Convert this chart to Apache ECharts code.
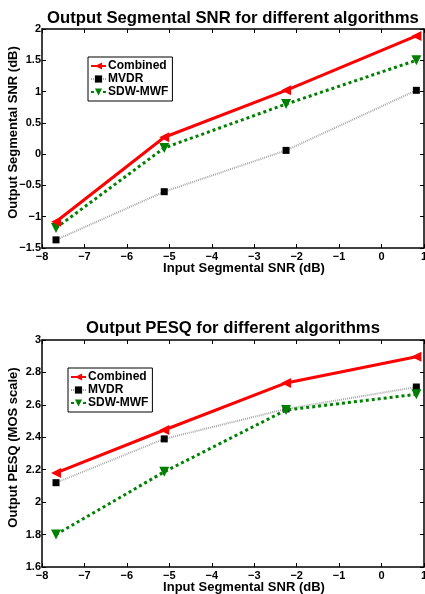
<!DOCTYPE html>
<html>
<head>
<meta charset="utf-8">
<script src="https://cdn.jsdelivr.net/npm/echarts@6/dist/echarts.min.js"></script>
<style>
  html, body { margin: 0; padding: 0; background: #fff; }
  #chart { width: 425px; height: 594px; }
</style>
</head>
<body>
<div id="chart"></div>
<script>
// input segmental SNR (dB), shared by both plots
var inputSnr = [-7.67, -5.12, -2.25, 0.82];

// top plot: output segmental SNR (dB)
var snrCombined = [-1.08, 0.27, 1.02, 1.89];
var snrMvdr = [-1.37, -0.6, 0.06, 1.02];
var snrSdw = [-1.18, 0.1, 0.8, 1.5];

// bottom plot: output PESQ (MOS scale)
var pesqCombined = [2.18, 2.445, 2.735, 2.897];
var pesqMvdr = [2.12, 2.39, 2.575, 2.71];
var pesqSdw = [1.8, 2.187, 2.568, 2.665];

var FONT = 'Liberation Sans';

function pairs(xs, ys) {
  return xs.map(function (x, i) { return [x, ys[i]]; });
}

// matlab prints a real minus sign
function tickFmt(v) {
  return String(+v.toFixed(2)).replace('-', '\u2212');
}

// matlab-ish axis: inside ticks, black line, bold labels
function xAx(gridIdx, pos, showLabel, name) {
  return {
    type: 'value', gridIndex: gridIdx, position: pos,
    min: -8, max: 1, interval: 1,
    name: name || '', nameLocation: 'middle', nameGap: 14, nameMoveOverlap: false,
    nameTextStyle: { fontFamily: FONT, fontWeight: 'bold', fontSize: 13, color: '#000', padding: [0, 0, 0, 22] },
    axisLine: { onZero: false, lineStyle: { color: '#000', width: 1.5 } },
    axisTick: { inside: true, length: 4, lineStyle: { color: '#000' } },
    axisLabel: { show: showLabel, margin: 3, formatter: tickFmt, fontFamily: FONT, fontWeight: 'bold', fontSize: 11, color: '#000' },
    splitLine: { show: false }
  };
}

function yAx(gridIdx, pos, showLabel, min, max, step, name) {
  return {
    type: 'value', gridIndex: gridIdx, position: pos,
    min: min, max: max, interval: step,
    name: name || '', nameLocation: 'middle', nameGap: 22, nameMoveOverlap: false,
    nameTextStyle: { fontFamily: FONT, fontWeight: 'bold', fontSize: 13, color: '#000', padding: [0, 0, 0, 12] },
    axisLine: { onZero: false, lineStyle: { color: '#000', width: 1.5 } },
    axisTick: { inside: true, length: 4, lineStyle: { color: '#000' } },
    axisLabel: { show: showLabel, margin: 1, formatter: tickFmt, fontFamily: FONT, fontWeight: 'bold', fontSize: 11, color: '#000' },
    splitLine: { show: false }
  };
}

function combinedSeries(idx, data) {
  return {
    name: 'Combined', type: 'line', xAxisIndex: idx * 2, yAxisIndex: idx * 2,
    data: data, symbol: 'triangle', symbolRotate: 90, symbolSize: 10,
    lineStyle: { color: '#ff0000', width: 3 },
    itemStyle: { color: '#ff0000' }, z: 4
  };
}
function mvdrSeries(idx, data) {
  return {
    name: 'MVDR', type: 'line', xAxisIndex: idx * 2, yAxisIndex: idx * 2,
    data: data, symbol: 'rect', symbolSize: 7,
    lineStyle: { color: '#a8a8a8', width: 2, type: [1, 1] },
    itemStyle: { color: '#000' }, z: 2
  };
}
function sdwSeries(idx, data) {
  return {
    name: 'SDW-MWF', type: 'line', xAxisIndex: idx * 2, yAxisIndex: idx * 2,
    data: data, symbol: 'triangle', symbolRotate: 180, symbolSize: 10,
    lineStyle: { color: '#008000', width: 3, type: [3, 3] },
    itemStyle: { color: '#008000' }, z: 3
  };
}

function legendBox(left, top) {
  return {
    left: left, top: top, orient: 'vertical',
    data: ['Combined', 'MVDR', 'SDW-MWF'],
    itemWidth: 15, itemHeight: 9, itemGap: 1,
    padding: [3, 4, 3, 2],
    borderColor: '#000', borderWidth: 1, backgroundColor: '#fff',
    selectedMode: false,
    textStyle: { fontFamily: FONT, fontWeight: 'bold', fontSize: 12, lineHeight: 12, color: '#000', padding: [0, 0, 0, -3] }
  };
}

var chart = echarts.init(document.getElementById('chart'));
chart.setOption({
  animation: false,
  title: [
    { text: 'Output Segmental SNR for different algorithms', left: 228, top: 5, textAlign: 'center',
      textStyle: { fontFamily: FONT, fontWeight: 'bold', fontSize: 16.7, color: '#000' } },
    { text: 'Output PESQ for different algorithms', left: 228, top: 315, textAlign: 'center',
      textStyle: { fontFamily: FONT, fontWeight: 'bold', fontSize: 16.7, color: '#000' } }
  ],
  legend: [legendBox(88, 57), legendBox(68, 368)],
  grid: [
    { left: 42, right: 1, top: 29, height: 219, outerBoundsMode: 'none', containLabel: false },
    { left: 42, right: 1, top: 340, height: 227, outerBoundsMode: 'none', containLabel: false }
  ],
  xAxis: [
    xAx(0, 'bottom', true, 'Input Segmental SNR (dB)'), xAx(0, 'top', false),
    xAx(1, 'bottom', true, 'Input Segmental SNR (dB)'), xAx(1, 'top', false)
  ],
  yAxis: [
    yAx(0, 'left', true, -1.5, 2, 0.5, 'Output Segmental SNR (dB)'), yAx(0, 'right', false, -1.5, 2, 0.5),
    yAx(1, 'left', true, 1.6, 3, 0.2, 'Output PESQ (MOS scale)'), yAx(1, 'right', false, 1.6, 3, 0.2)
  ],
  series: [
    combinedSeries(0, pairs(inputSnr, snrCombined)),
    mvdrSeries(0, pairs(inputSnr, snrMvdr)),
    sdwSeries(0, pairs(inputSnr, snrSdw)),
    combinedSeries(1, pairs(inputSnr, pesqCombined)),
    mvdrSeries(1, pairs(inputSnr, pesqMvdr)),
    sdwSeries(1, pairs(inputSnr, pesqSdw))
  ]
});
</script>
</body>
</html>
